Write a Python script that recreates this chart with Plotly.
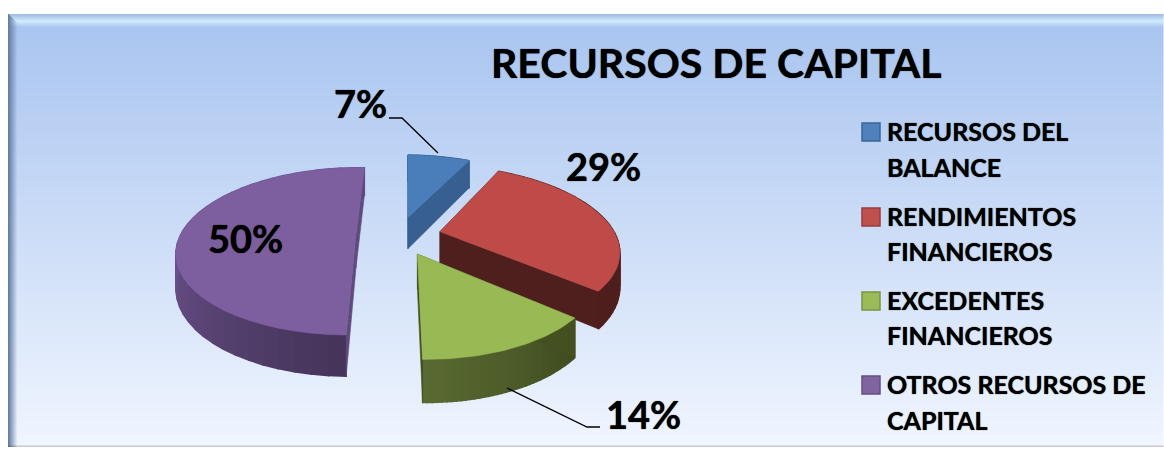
"""Exploded 3D-look pie: RECURSOS DE CAPITAL."""

import numpy as np
import plotly.graph_objects as go

WIDTH = 1164
HEIGHT = 449
FONT = "Lato"

title_text = "RECURSOS DE CAPITAL"
categories = [
    "RECURSOS DEL BALANCE",
    "RENDIMIENTOS FINANCIEROS",
    "EXCEDENTES FINANCIEROS",
    "OTROS RECURSOS DE CAPITAL",
]
# the labels show them rounded
shares = [7.0, 29.0, 13.8, 50.2]
legend_lines = [
    ["RECURSOS DEL", "BALANCE"],
    ["RENDIMIENTOS", "FINANCIEROS"],
    ["EXCEDENTES", "FINANCIEROS"],
    ["OTROS RECURSOS DE", "CAPITAL"],
]

top_colors = ["#4a7ebb", "#be4b48", "#98b954", "#7d5f9f"]
legend_colors = ["#4f81bd", "#c0504d", "#9bbb59", "#8064a2"]
legend_borders = ["#3a6696", "#983d3a", "#7b9447", "#654f80"]
radial_colors = ["#375f8f", "#4f1f1e", "#44501f", "#5f4a7c"]
rim_dark_colors = ["#375f8f", "#4f1f1e", "#3f4c1f", "#46345a"]
rim_light_colors = ["#375f8f", "#4f1f1e", "#5a6b33", "#6e5490"]
slice_scale = [1.0, 1.0, 0.96, 1.0]

label_pos = [(360, 103), (603, 166), (643, 414), (245, 238)]
legend_ys = [(132, 168), (217, 252), (301, 336), (385, 421)]

# perspective set-up (pixels)
VANISH_X, VANISH_Y = 384, -177
PLANE = 411
DEPTH_PLANE = 33
RADIUS_X = 175
PERSPECTIVE = 0.195
CENTER_X, CENTER_Z = 0.083, 0.017
EXPLODE = 0.243
ROTATION = np.radians(1.5)


def project(x, z, lowered=False):
    w = 1 / (1 - z * PERSPECTIVE)
    plane = PLANE + DEPTH_PLANE if lowered else PLANE
    return VANISH_X + x * RADIUS_X * w, VANISH_Y + plane * w


def mix(a, b, t):
    ca = [int(a[i:i + 2], 16) for i in (1, 3, 5)]
    cb = [int(b[i:i + 2], 16) for i in (1, 3, 5)]
    return "rgb({},{},{})".format(*[round(p + (q - p) * t) for p, q in zip(ca, cb)])


def polygon(xs, ys, color, width=0.6):
    return go.Scatter(
        x=xs, y=ys, mode="lines", fill="toself", fillcolor=color,
        line=dict(color=color, width=width), hoverinfo="skip", showlegend=False,
    )


def slice_traces(index, start, end):
    mid = (start + end) / 2
    cx = CENTER_X + EXPLODE * np.sin(mid)
    cz = CENTER_Z - EXPLODE * np.cos(mid)
    theta = np.linspace(start, end, 40)
    rim_x = cx + slice_scale[index] * np.sin(theta)
    rim_z = cz - slice_scale[index] * np.cos(theta)
    traces = []

    # rim wall, split into small quads for the shading
    span = min(end - start, np.pi / 2)
    for k in range(len(theta) - 1):
        color = mix(rim_dark_colors[index], rim_light_colors[index], min(1, (theta[k] - start) / span))
        ax, ay = project(rim_x[k:k + 2], rim_z[k:k + 2])
        bx, by = project(rim_x[k:k + 2], rim_z[k:k + 2], lowered=True)
        traces.append(polygon(
            [ax[0], ax[1], bx[1], bx[0], ax[0]],
            [ay[0], ay[1], by[1], by[0], ay[0]],
            color,
            width=1.5,
        ))

    # the two flat cut walls
    for edge in (0, -1):
        ex, ey = project(np.array([cx, rim_x[edge]]), np.array([cz, rim_z[edge]]))
        fx, fy = project(np.array([cx, rim_x[edge]]), np.array([cz, rim_z[edge]]), lowered=True)
        traces.append(polygon(
            [ex[0], ex[1], fx[1], fx[0], ex[0]],
            [ey[0], ey[1], fy[1], fy[0], ey[0]],
            radial_colors[index],
        ))

    # top face
    tx, ty = project(np.r_[cx, rim_x, cx], np.r_[cz, rim_z, cz])
    traces.append(polygon(tx, ty, top_colors[index]))
    return traces


def background():
    """Panel gradient with the bevelled frame of the original."""
    img = np.full((HEIGHT, WIDTH, 3), 255.0)
    top = np.array([168, 196, 240.0])
    bottom = np.array([241, 246, 255.0])
    left, upper, low = 8, 14, 447
    for y in range(upper, low):
        t = (y - upper) / (low - upper)
        img[y, left:] = top + (bottom - top) * t
    # top bevel
    for y in range(upper, upper + 14):
        t = (y - upper) / 13
        glow = np.array([208, 236, 255.0])
        base = np.array([170, 197, 240.0])
        edge = np.array([160, 186, 228.0])
        if t < 0.5:
            color = edge + (glow - edge) * (t / 0.5)
        else:
            color = glow + (base - glow) * ((t - 0.5) / 0.5)
        img[y, left + (y - upper):] = color
    # left bevel
    for x in range(left, left + 10):
        t = (x - left) / 9
        for y in range(upper + (x - left), low):
            base = img[y, left + 11]
            img[y, x] = np.array([100, 125, 165.0]) * (1 - t) + base * t
    # bottom bevel
    for y in range(low - 3, low):
        t = (y - (low - 3)) / 2
        img[y, left:] = img[y, left:] * (1 - 0.18 * t)
    img[low:, :] = 255
    return img.astype(np.uint8)


fig = go.Figure()
fig.add_trace(go.Image(z=background(), x0=0, y0=0, dx=1, dy=1, hoverinfo="skip"))

edges = ROTATION + np.r_[0, np.cumsum(shares)] / sum(shares) * 2 * np.pi
draw_order = [3, 0, 1, 2]
for i in draw_order:
    for trace in slice_traces(i, edges[i], edges[i + 1]):
        fig.add_trace(trace)

# leader lines for the two outer labels
for xs, ys in [([389, 402, 438], [118, 118, 153]), ([507, 587, 600], [388, 427, 427])]:
    fig.add_trace(go.Scatter(
        x=xs, y=ys, mode="lines", line=dict(color="#000000", width=1.3),
        hoverinfo="skip", showlegend=False,
    ))

annotations = [
    dict(x=716, y=62, text=f"<b>{title_text}</b>", font=dict(size=41)),
]
for share, (lx, ly) in zip(shares, label_pos):
    annotations.append(dict(x=lx, y=ly, text=f"<b>{round(share)}%</b>", font=dict(size=38)))
for lines, ys in zip(legend_lines, legend_ys):
    for line, ly in zip(lines, ys):
        annotations.append(dict(
            x=885, y=ly - 1, text=f"<b>{line}</b>", xanchor="left", font=dict(size=25),
        ))
for a in annotations:
    a.update(xref="x", yref="y", showarrow=False)
    a.setdefault("xanchor", "center")
    a["yanchor"] = "middle"
    a["font"].update(family=FONT, color="#000000", shadow="0 0 1px #000000")

shapes = [
    dict(
        type="rect", xref="x", yref="y",
        x0=862, x1=880, y0=ly[0] - 9, y1=ly[0] + 9,
        fillcolor=fill, line=dict(color=edge, width=1.5),
    )
    for ly, fill, edge in zip(legend_ys, legend_colors, legend_borders)
]

fig.update_layout(
    width=WIDTH,
    height=HEIGHT,
    margin=dict(l=0, r=0, t=0, b=0),
    paper_bgcolor="#ffffff",
    plot_bgcolor="#ffffff",
    showlegend=False,
    annotations=annotations,
    shapes=shapes,
)
fig.update_xaxes(range=[0, WIDTH], visible=False, fixedrange=True)
fig.update_yaxes(range=[HEIGHT, 0], visible=False, fixedrange=True)

# the page's default body margin would shift the whole chart
fig.write_html(
    "out.html",
    config=dict(displayModeBar=False),
    post_script="document.body.style.margin='0';document.body.style.overflow='hidden';",
)
